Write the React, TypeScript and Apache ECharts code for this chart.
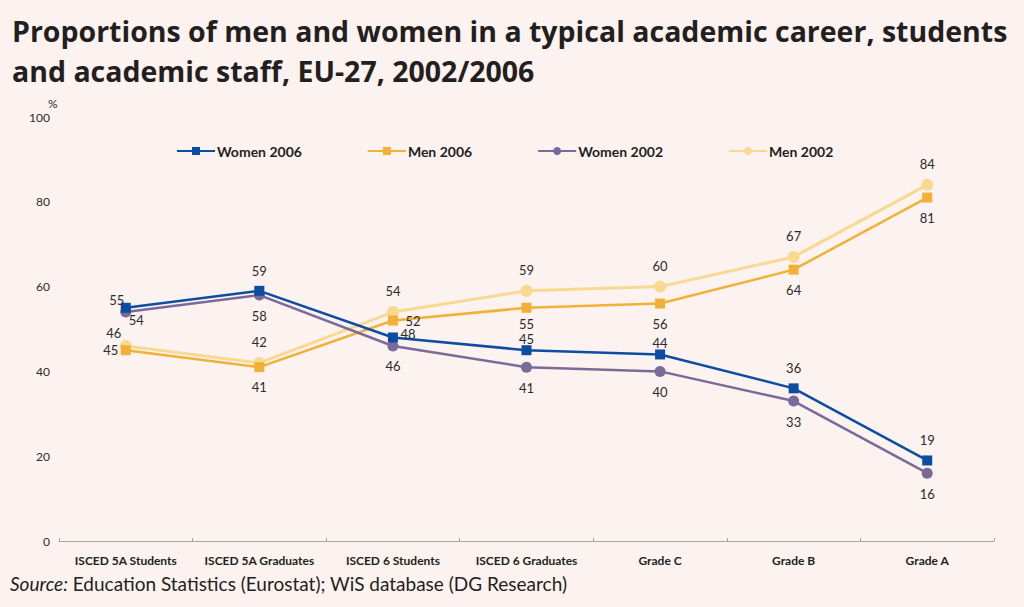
import React, { useEffect, useRef } from "react";
import * as echarts from "echarts";

const categories = [
  "ISCED 5A Students",
  "ISCED 5A Graduates",
  "ISCED 6 Students",
  "ISCED 6 Graduates",
  "Grade C",
  "Grade B",
  "Grade A",
];
const women2006 = [55, 59, 48, 45, 44, 36, 19];
const men2006 = [45, 41, 52, 55, 56, 64, 81];
const women2002 = [54, 58, 46, 41, 40, 33, 16];
const men2002 = [46, 42, 54, 59, 60, 67, 84];
const yTicks = [0, 20, 40, 60, 80, 100];

const titleLines = [
  "Proportions of men and women in a typical academic career, students",
  "and academic staff, EU-27, 2002/2006",
];

type LabelOverride = { position: string; offset: [number, number] } | null;

function buildData(values: number[], defaultPos: string, overrides: Record<number, LabelOverride>) {
  return values.map((v, i) => {
    const o = overrides[i];
    if (!o) return { value: v, label: { position: defaultPos } };
    return { value: v, label: { position: o.position, offset: o.offset } };
  });
}

export default function App() {
  const ref = useRef<HTMLDivElement>(null);
  useEffect(() => {
    if (!ref.current) return;
    const chart = echarts.init(ref.current, null, { renderer: "svg" });
    const labelBase = {
      show: true,
      color: "#2b2b2b",
      fontFamily: "Lato",
      fontSize: 13,
      distance: 8.5,
    };
    const lineCommon = {
      type: "line",
      symbolKeepAspect: true,
      label: labelBase,
    };
    chart.setOption({
      animation: false,
      backgroundColor: "#fcf2ef",
      title: titleLines.map((t, i) => ({
        text: t,
        left: 7,
        top: 11 + i * 40,
        textStyle: {
          fontFamily: "Open Sans",
          fontWeight: "bold",
          fontSize: 28.5,
          color: "#231f20",
        },
      })),
      legend: {
        top: 139,
        left: 171,
        itemGap: 65,
        itemWidth: 38,
        itemHeight: 10,
        textStyle: {
          fontFamily: "Lato",
          fontWeight: "bold",
          fontSize: 14,
          color: "#231f20",
          padding: [0, 0, 0, -3],
        },
        data: ["Women 2006", "Men 2006", "Women 2002", "Men 2002"],
      },
      grid: { left: 59, right: 30, top: 117, bottom: 66, containLabel: false },
      xAxis: {
        type: "category",
        data: categories,
        boundaryGap: true,
        axisLine: { lineStyle: { color: "#a8a3a3", width: 1 } },
        axisTick: { show: true, inside: true, length: 3, lineStyle: { color: "#a8a3a3" } },
        axisLabel: {
          interval: 0,
          margin: 13,
          fontFamily: "Lato",
          fontWeight: "bold",
          fontSize: 12,
          color: "#231f20",
        },
        splitLine: { show: false },
      },
      yAxis: {
        type: "value",
        min: yTicks[0],
        max: yTicks[yTicks.length - 1],
        interval: yTicks[1] - yTicks[0],
        axisLine: { show: false },
        axisTick: { show: false },
        splitLine: { show: false },
        axisLabel: {
          margin: 9,
          fontFamily: "Lato",
          fontSize: 12,
          color: "#2b2b2b",
        },
      },
      graphic: [
        {
          type: "text",
          left: 48,
          top: 97,
          style: { text: "%", fontFamily: "Lato", fontSize: 12, fill: "#2b2b2b" },
        },
        {
          type: "text",
          left: 10,
          top: 574,
          style: {
            text: "{i|Source:} Education Statistics (Eurostat); WiS database (DG Research)",
            fontFamily: "Lato",
            fontSize: 19,
            fill: "#231f20",
            rich: {
              i: { fontStyle: "italic", fontFamily: "Lato", fontSize: 19, fill: "#231f20" },
            },
          },
        },
      ],
      series: [
        {
          ...lineCommon,
          name: "Men 2002",
          z: 2,
          symbol: "circle",
          symbolSize: 12,
          lineStyle: { color: "#f8d991", width: 3 },
          itemStyle: { color: "#f8d991" },
          data: buildData(men2002, "top", {
            0: { position: "left", offset: [10, -13] },
          }),
        },
        {
          ...lineCommon,
          name: "Men 2006",
          z: 3,
          symbol: "rect",
          symbolSize: 10,
          lineStyle: { color: "#f1b136", width: 2.5 },
          itemStyle: { color: "#f1b136" },
          data: buildData(men2006, "bottom", {
            0: { position: "left", offset: [6, 0] },
            2: { position: "right", offset: [-1, 0] },
            3: { position: "bottom", offset: [0, -4] },
          }),
        },
        {
          ...lineCommon,
          name: "Women 2002",
          z: 4,
          symbol: "circle",
          symbolSize: 11,
          lineStyle: { color: "#7a6a99", width: 2.5 },
          itemStyle: { color: "#7a6a99" },
          data: buildData(women2002, "bottom", {
            0: { position: "right", offset: [-11, 8] },
          }),
        },
        {
          ...lineCommon,
          name: "Women 2006",
          z: 5,
          symbol: "rect",
          symbolSize: 10,
          lineStyle: { color: "#0c4da2", width: 2.5 },
          itemStyle: { color: "#0c4da2" },
          data: buildData(women2006, "top", {
            0: { position: "left", offset: [12, -8] },
            2: { position: "right", offset: [-6, -3] },
            3: { position: "top", offset: [0, 9] },
            4: { position: "top", offset: [0, 9] },
          }),
        },
      ],
    });
    return () => chart.dispose();
  }, []);
  return (
    <div
      ref={ref}
      style={{ position: "absolute", left: 0, top: 0, width: 1024, height: 607 }}
    />
  );
}
